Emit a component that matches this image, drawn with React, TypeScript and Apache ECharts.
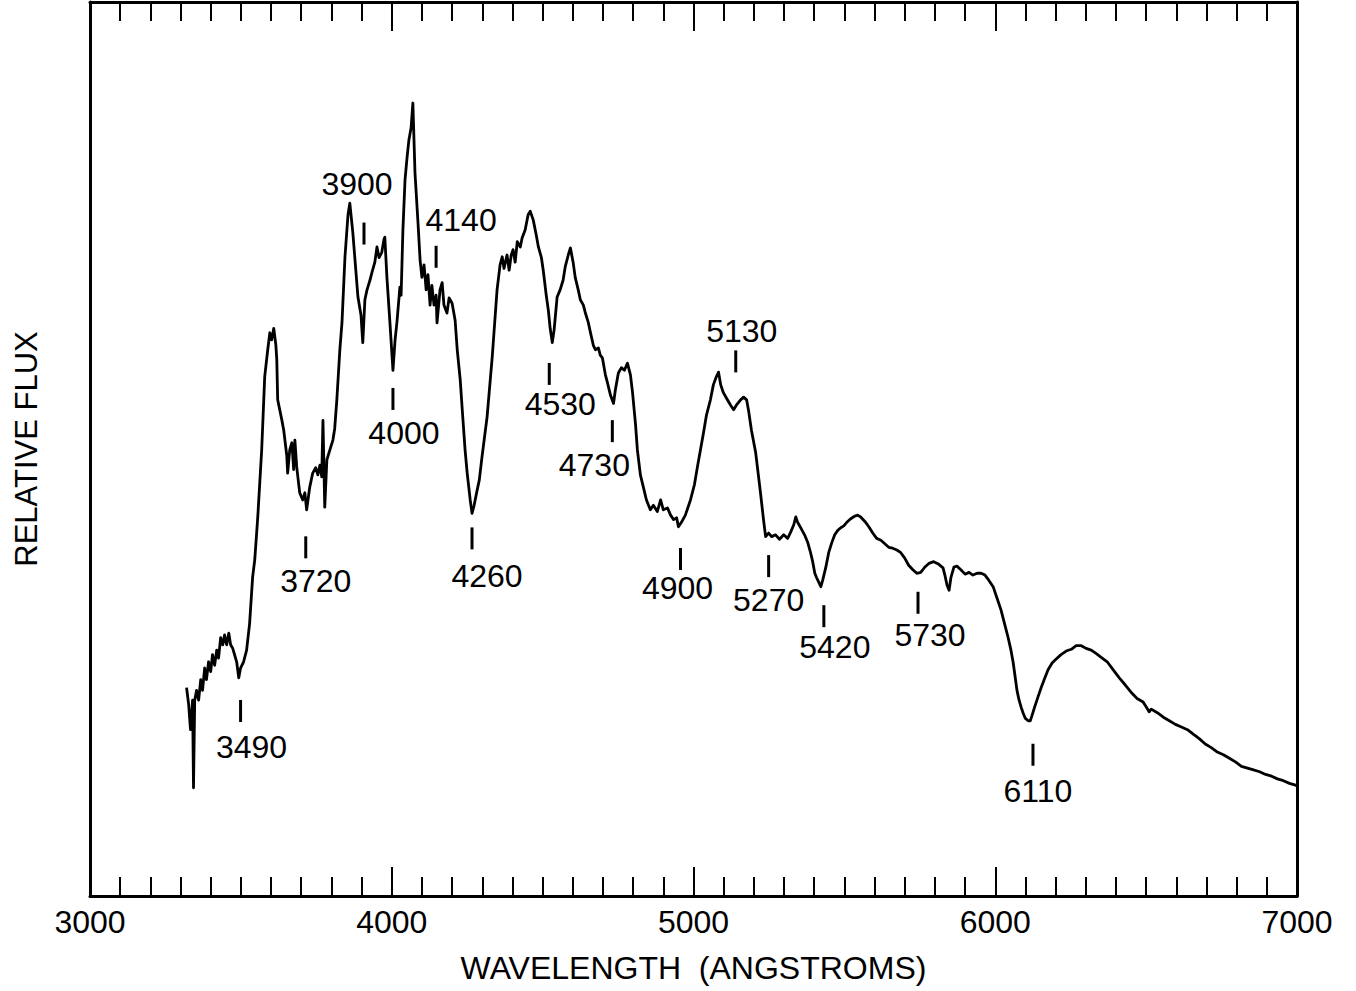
import React, { useEffect, useRef } from "react";
import * as echarts from "echarts";

// Wavelength (Angstroms) of the traced spectrum points
const WAVELENGTH = [
  3320, 3327, 3333, 3340, 3343, 3347, 3353, 3360, 3367, 3373,
  3380, 3386, 3393, 3400, 3406, 3413, 3420, 3426, 3433, 3440,
  3446, 3453, 3460, 3466, 3473, 3479, 3486, 3493, 3499, 3509,
  3519, 3529, 3539, 3546, 3556, 3569, 3579, 3589, 3596, 3602,
  3609, 3616, 3619, 3622, 3636, 3642, 3652, 3655, 3662, 3669,
  3675, 3679, 3685, 3695, 3705, 3712, 3718, 3728, 3738, 3748,
  3755, 3762, 3768, 3772, 3778, 3785, 3795, 3805, 3811, 3818,
  3828, 3835, 3845, 3855, 3861, 3871, 3888, 3898, 3904, 3911,
  3918, 3928, 3934, 3944, 3951, 3958, 3967, 3974, 3977, 3984,
  3994, 4004, 4011, 4017, 4027, 4031, 4037, 4044, 4051, 4057,
  4064, 4070, 4077, 4087, 4094, 4100, 4107, 4114, 4120, 4127,
  4133, 4140, 4147, 4150, 4160, 4167, 4173, 4183, 4190, 4200,
  4210, 4217, 4227, 4233, 4243, 4250, 4260, 4266, 4273, 4283,
  4290, 4299, 4316, 4333, 4349, 4359, 4366, 4372, 4382, 4389,
  4396, 4402, 4409, 4416, 4426, 4432, 4442, 4452, 4459, 4469,
  4479, 4486, 4496, 4502, 4512, 4519, 4525, 4532, 4538, 4548,
  4558, 4568, 4575, 4585, 4592, 4601, 4608, 4618, 4625, 4635,
  4641, 4651, 4658, 4668, 4675, 4685, 4691, 4698, 4708, 4715,
  4725, 4735, 4741, 4751, 4761, 4771, 4781, 4791, 4798, 4808,
  4814, 4824, 4834, 4844, 4857, 4867, 4880, 4891, 4900, 4914,
  4924, 4934, 4944, 4950, 4960, 4973, 4990, 5003, 5013, 5023,
  5033, 5043, 5056, 5066, 5076, 5083, 5090, 5099, 5109, 5123,
  5133, 5142, 5156, 5166, 5176, 5182, 5192, 5206, 5216, 5222,
  5232, 5239, 5249, 5259, 5272, 5285, 5299, 5312, 5322, 5332,
  5339, 5345, 5355, 5368, 5378, 5388, 5395, 5402, 5408, 5415,
  5422, 5428, 5438, 5448, 5458, 5468, 5478, 5488, 5498, 5508,
  5521, 5535, 5544, 5554, 5568, 5581, 5594, 5607, 5621, 5634,
  5647, 5660, 5674, 5687, 5700, 5713, 5727, 5740, 5753, 5767,
  5780, 5796, 5813, 5827, 5833, 5840, 5847, 5853, 5863, 5873,
  5886, 5900, 5913, 5926, 5940, 5953, 5966, 5979, 5993, 6006,
  6019, 6032, 6042, 6052, 6059, 6066, 6072, 6079, 6086, 6092,
  6099, 6109, 6116, 6122, 6132, 6142, 6152, 6162, 6175, 6189,
  6202, 6218, 6235, 6252, 6268, 6285, 6301, 6318, 6335, 6351,
  6371, 6391, 6411, 6431, 6450, 6470, 6490, 6503, 6510, 6517,
  6537, 6557, 6577, 6597, 6617, 6637, 6656, 6676, 6696, 6716,
  6736, 6756, 6776, 6796, 6816, 6836, 6856, 6876, 6896, 6916,
  6935, 6955, 6975, 6995, 7000,
];

// Relative flux at each wavelength (arbitrary units)
const FLUX = [
  2.33, 2.14, 1.86, 2.19, 1.21, 2.19, 2.30, 2.19, 2.42, 2.30,
  2.55, 2.42, 2.62, 2.51, 2.70, 2.58, 2.75, 2.66, 2.89, 2.81,
  2.92, 2.81, 2.94, 2.81, 2.77, 2.70, 2.62, 2.44, 2.55, 2.62,
  2.75, 3.05, 3.57, 3.76, 4.24, 4.99, 5.81, 6.11, 6.30, 6.22,
  6.35, 6.16, 6.00, 5.55, 5.32, 5.21, 4.93, 4.73, 4.99, 5.07,
  4.77, 5.10, 4.80, 4.51, 4.43, 4.51, 4.32, 4.57, 4.73, 4.79,
  4.71, 4.82, 4.69, 5.32, 4.35, 4.88, 4.99, 5.10, 5.23, 5.55,
  6.11, 6.41, 7.15, 7.62, 7.75, 7.42, 6.70, 6.50, 6.19, 6.67,
  6.78, 6.89, 6.97, 7.09, 7.26, 7.14, 7.20, 7.34, 7.37, 6.92,
  6.41, 5.88, 6.22, 6.41, 6.81, 6.72, 7.45, 8.01, 8.27, 8.46,
  8.59, 8.87, 8.09, 7.53, 7.11, 6.92, 7.06, 6.78, 6.95, 6.61,
  6.83, 6.61, 6.72, 6.41, 6.78, 6.86, 6.61, 6.52, 6.69, 6.63,
  6.44, 6.11, 5.77, 5.47, 4.99, 4.73, 4.43, 4.28, 4.37, 4.54,
  4.65, 4.91, 5.36, 6.03, 6.78, 7.06, 7.15, 7.02, 7.17, 7.00,
  7.17, 7.23, 7.09, 7.32, 7.26, 7.36, 7.45, 7.62, 7.66, 7.56,
  7.39, 7.26, 7.14, 7.00, 6.72, 6.55, 6.35, 6.19, 6.33, 6.70,
  6.78, 6.89, 7.04, 7.17, 7.25, 7.09, 6.92, 6.78, 6.67, 6.61,
  6.53, 6.42, 6.31, 6.16, 6.11, 6.13, 6.05, 6.02, 5.83, 5.74,
  5.60, 5.51, 5.66, 5.85, 5.91, 5.88, 5.96, 5.83, 5.63, 5.27,
  4.99, 4.71, 4.57, 4.43, 4.32, 4.37, 4.30, 4.43, 4.32, 4.34,
  4.26, 4.21, 4.23, 4.13, 4.18, 4.26, 4.43, 4.60, 4.80, 4.99,
  5.18, 5.38, 5.55, 5.72, 5.81, 5.86, 5.72, 5.63, 5.57, 5.49,
  5.44, 5.49, 5.55, 5.58, 5.55, 5.44, 5.21, 4.96, 4.68, 4.51,
  4.21, 4.02, 4.06, 4.02, 4.04, 3.99, 4.04, 4.00, 4.07, 4.15,
  4.24, 4.18, 4.12, 4.04, 3.96, 3.84, 3.74, 3.61, 3.56, 3.51,
  3.46, 3.53, 3.67, 3.84, 3.95, 4.04, 4.09, 4.12, 4.14, 4.18,
  4.22, 4.25, 4.26, 4.24, 4.19, 4.13, 4.06, 4.00, 3.98, 3.94,
  3.90, 3.89, 3.87, 3.84, 3.78, 3.70, 3.65, 3.61, 3.62, 3.68,
  3.72, 3.74, 3.71, 3.67, 3.59, 3.48, 3.42, 3.56, 3.68, 3.69,
  3.65, 3.60, 3.62, 3.59, 3.61, 3.61, 3.59, 3.53, 3.46, 3.33,
  3.20, 3.03, 2.90, 2.75, 2.62, 2.45, 2.30, 2.19, 2.11, 2.05,
  1.99, 1.96, 1.96, 2.02, 2.13, 2.23, 2.33, 2.42, 2.53, 2.61,
  2.65, 2.70, 2.74, 2.76, 2.80, 2.80, 2.77, 2.75, 2.71, 2.67,
  2.62, 2.53, 2.44, 2.36, 2.28, 2.21, 2.17, 2.10, 2.06, 2.09,
  2.05, 2.00, 1.96, 1.92, 1.89, 1.86, 1.81, 1.76, 1.70, 1.66,
  1.61, 1.58, 1.54, 1.50, 1.45, 1.43, 1.41, 1.39, 1.36, 1.34,
  1.31, 1.29, 1.26, 1.24, 1.23,
];

// Feature annotations: tick wavelength, tick flux level, label text
const MARK_WAVE = [3499, 3715, 3908, 4004, 4147, 4266, 4522, 4731, 4957, 5140, 5249, 5432, 5744, 6125];
const MARK_FLUX = [2.07, 3.90, 7.41, 5.56, 7.15, 4.00, 5.84, 5.20, 3.77, 5.98, 3.69, 3.13, 3.28, 1.58];
const MARK_TEXT = ["3490", "3720", "3900", "4000", "4140", "4260", "4530", "4730", "4900", "5130", "5270", "5420", "5730", "6110"];

// Layout only: pixel nudge of each label from its tick
const LABEL_NUDGE = [
  [11, 36], [10, 34], [-7, -50], [11, 34], [25, -37], [15, 38], [11, 30],
  [-18, 34], [-3, 29], [6, -30], [0, 34], [11, 31], [12, 32], [5, 36],
];

const X_MIN = 3000;
const X_MAX = 7000;
const X_STEP = 1000;
const Y_MIN = 0;
const Y_MAX = 10;

const FONT = "'Liberation Sans', Arial, Helvetica, sans-serif";

export default function App() {
  const ref = useRef<HTMLDivElement>(null);

  useEffect(() => {
    if (!ref.current) return;
    const chart = echarts.init(ref.current, null, { renderer: "svg" });

    const n = Math.min(WAVELENGTH.length, FLUX.length);
    const spectrum: number[][] = [];
    for (let i = 0; i < n; i++) spectrum.push([WAVELENGTH[i], FLUX[i]]);

    const marks = MARK_WAVE.map((w, i) => ({
      value: [w, MARK_FLUX[i]],
      name: MARK_TEXT[i],
      label: { offset: LABEL_NUDGE[i] },
    }));

    const xAxisBase = (position: "top" | "bottom") => ({
      type: "value" as const,
      min: X_MIN,
      max: X_MAX,
      interval: X_STEP,
      position,
      axisLine: { show: true, onZero: false, lineStyle: { color: "#000", width: 3 } },
      axisTick: { show: true, inside: true, length: 29, lineStyle: { color: "#000", width: 2 } },
      minorTick: { show: true, splitNumber: 10, length: 19, lineStyle: { color: "#000", width: 2 } },
      splitLine: { show: false },
      minorSplitLine: { show: false },
    });

    chart.setOption({
      animation: false,
      backgroundColor: "#fff",
      grid: { left: 90, right: 59, top: 2, bottom: 95, containLabel: false },
      xAxis: [
        {
          ...xAxisBase("bottom"),
          name: "WAVELENGTH  (ANGSTROMS)",
          nameLocation: "middle",
          nameGap: 56,
          nameTextStyle: { fontSize: 32, color: "#000", fontFamily: FONT },
          axisLabel: {
            show: true,
            fontSize: 32,
            color: "#000",
            fontFamily: FONT,
            margin: 10,
            formatter: (v: number) => String(v),
          },
        },
        {
          ...xAxisBase("top"),
          axisLabel: { show: false },
        },
      ],
      yAxis: [
        {
          type: "value",
          min: Y_MIN,
          max: Y_MAX,
          position: "left",
          name: "RELATIVE FLUX",
          nameLocation: "middle",
          nameGap: 48,
          nameTextStyle: { fontSize: 31, color: "#000", fontFamily: FONT },
          axisLine: { show: true, onZero: false, lineStyle: { color: "#000", width: 3 } },
          axisTick: { show: false },
          axisLabel: { show: false },
          splitLine: { show: false },
        },
        {
          type: "value",
          min: Y_MIN,
          max: Y_MAX,
          position: "right",
          axisLine: { show: true, onZero: false, lineStyle: { color: "#000", width: 3 } },
          axisTick: { show: false },
          axisLabel: { show: false },
          splitLine: { show: false },
        },
      ],
      series: [
        {
          type: "line",
          data: spectrum,
          showSymbol: false,
          symbol: "none",
          lineStyle: { color: "#000", width: 2.8, join: "round" },
          z: 3,
        },
        {
          type: "scatter",
          data: marks,
          symbol: "rect",
          symbolSize: [3, 22],
          itemStyle: { color: "#000", opacity: 1 },
          label: {
            show: true,
            position: "inside",
            formatter: (p: any) => p.name,
            fontSize: 32,
            color: "#000",
            fontFamily: FONT,
            textBorderWidth: 0,
          },
          z: 4,
        },
      ],
    });

    return () => chart.dispose();
  }, []);

  return (
    <div
      ref={ref}
      style={{ position: "absolute", left: 0, top: 0, width: 1356, height: 991, background: "#fff" }}
    />
  );
}
